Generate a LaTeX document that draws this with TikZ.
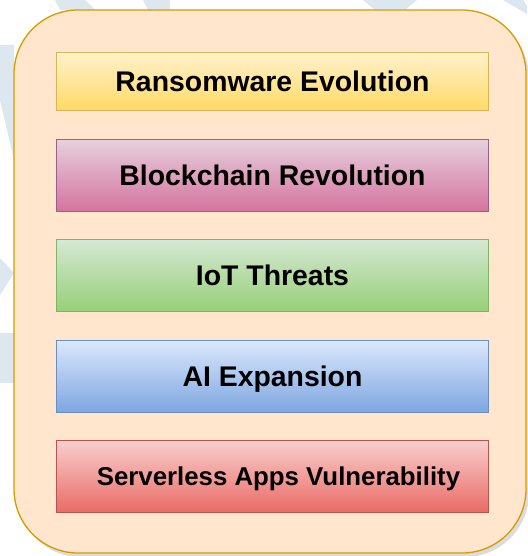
\documentclass[tikz,border=0pt]{standalone}
\usepackage{fontspec}
\setmainfont{Liberation Sans}
\definecolor{panelfill}{HTML}{FFE6CC}
\definecolor{paneldraw}{HTML}{D79B00}
\definecolor{wm}{HTML}{DCE7EF}
\definecolor{ylwTop}{HTML}{FFF2CC}\definecolor{ylwBot}{HTML}{FFD966}\definecolor{ylwLine}{HTML}{D6B656}
\definecolor{pnkTop}{HTML}{E6D0DE}\definecolor{pnkBot}{HTML}{D5739D}\definecolor{pnkLine}{HTML}{996185}
\definecolor{grnTop}{HTML}{D5E8D4}\definecolor{grnBot}{HTML}{97D077}\definecolor{grnLine}{HTML}{82B366}
\definecolor{bluTop}{HTML}{DAE8FC}\definecolor{bluBot}{HTML}{7EA6E0}\definecolor{bluLine}{HTML}{6C8EBF}
\definecolor{redTop}{HTML}{F8CECC}\definecolor{redBot}{HTML}{EA6B66}\definecolor{redLine}{HTML}{B85450}
\tikzset{
  band/.style={fill=wm, draw=none},
  layer/.style={line width=1pt, rectangle, minimum width=432pt, anchor=north west,
    font=\bfseries\fontsize{28.4}{30}\selectfont, text=black, inner sep=0pt, text depth=0pt},
  yellowlayer/.style={layer, draw=ylwLine, top color=ylwTop, bottom color=ylwBot},
  pinklayer/.style={layer, draw=pnkLine, top color=pnkTop, bottom color=pnkBot},
  greenlayer/.style={layer, draw=grnLine, top color=grnTop, bottom color=grnBot},
  bluelayer/.style={layer, draw=bluLine, top color=bluTop, bottom color=bluBot},
  redlayer/.style={layer, draw=redLine, top color=redTop, bottom color=redBot},
}
\begin{document}
\begin{tikzpicture}[x=1pt,y=-1pt]
\useasboundingbox (0,0) rectangle (527,556);
\fill[white] (0,0) rectangle (527,556);
% faint background chevrons
\fill[band] (0,45) -- (14,45) -- (14,160) -- (0,100) -- cycle;
\fill[band] (0,258) -- (14,273) -- (0,295) -- cycle;
\fill[band] (0,333) -- (14,333) -- (14,383) -- (0,383) -- cycle;
\fill[band] (55,0) -- (85,0) -- (95,10) -- (60,10) -- cycle;
\fill[band] (143,0) -- (170,0) -- (170,10) -- (148,10) -- cycle;
\fill[band] (363,0) -- (417,0) -- (405,10) -- (375,10) -- cycle;
\fill[band] (503,0) -- (523,0) -- (527,6) -- (527,14) -- cycle;
% panel shadow
\fill[gray!45, opacity=0.6, rounded corners=64pt] (17,14) rectangle (529,557);
% panel
\draw[fill=panelfill, draw=paneldraw, line width=1.3pt, rounded corners=64pt] (14,10) rectangle (526,553);
% layers
\node[yellowlayer, minimum height=58pt] (ransom) at (56,52) {Ransomware Evolution};
\node[pinklayer, minimum height=72pt] (chain) at (56,139) {Blockchain Revolution};
\node[greenlayer, minimum height=72pt] (iot) at (56,239) {IoT Threats};
\node[bluelayer, minimum height=72pt] (ai) at (56,340) {AI Expansion};
\node[redlayer, minimum height=72pt, font=\bfseries\fontsize{25.8}{28}\selectfont] (serverless) at (56,440) {\hspace*{12pt}Serverless Apps Vulnerability};
\end{tikzpicture}
\end{document}
